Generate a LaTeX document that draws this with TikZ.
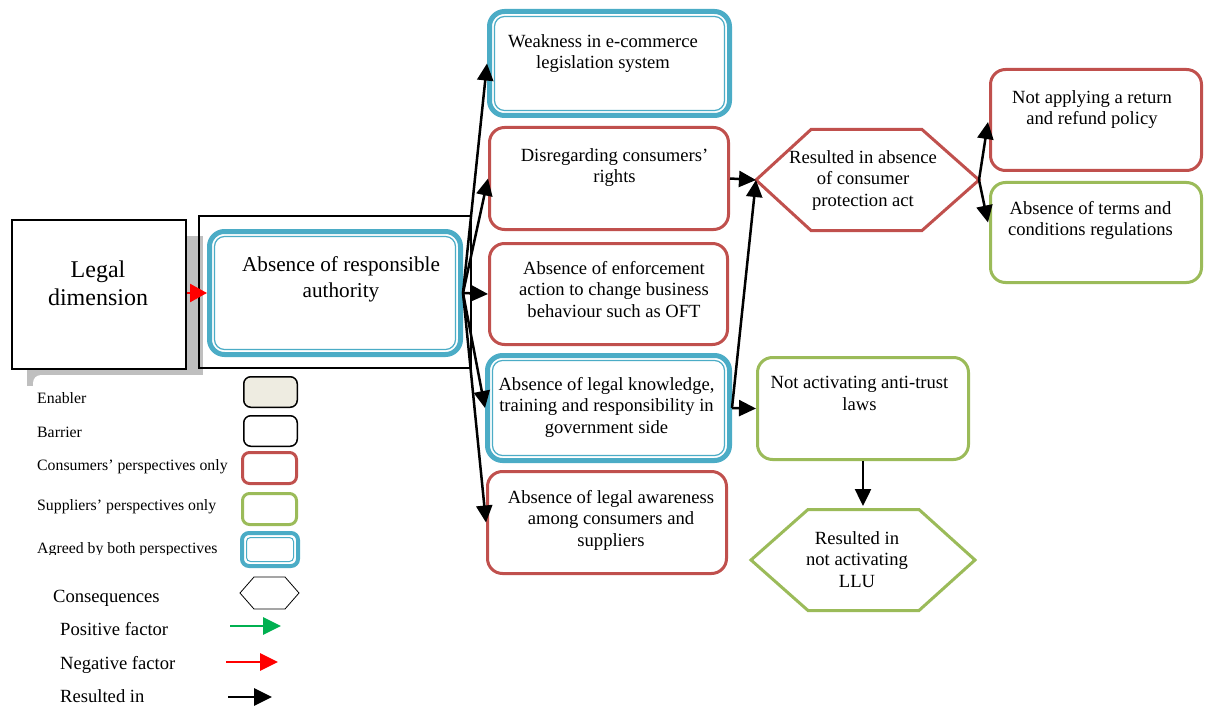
\documentclass[tikz,border=0pt]{standalone}
\usepackage{fontspec}
\setmainfont{Liberation Serif}
\usetikzlibrary{arrows.meta,calc}
\definecolor{agreeblue}{HTML}{4BACC6}
\definecolor{consred}{HTML}{C0504D}
\definecolor{suppgreen}{HTML}{9BBB59}
\definecolor{enablerfill}{HTML}{EEECE1}
\definecolor{posgreen}{HTML}{00B050}
\definecolor{shadowgray}{HTML}{BFBFBF}

\tikzset{
  box/.style={draw, rounded corners=15pt, line width=3pt, fill=white, inner sep=0pt},
  consbox/.style={box, draw=consred},
  suppbox/.style={box, draw=suppgreen},
  agreebox/.style={box, draw=agreeblue, line width=5pt},
  txt/.style={font=\fontsize{18.6}{21.7}\selectfont, align=center, anchor=north, inner sep=0pt},
  legtxt/.style={font=\fontsize{15.8}{18}\selectfont, anchor=west, inner sep=0pt},
  legtxtb/.style={font=\fontsize{18.6}{21.7}\selectfont, anchor=west, inner sep=0pt},
  swatch/.style={draw, rounded corners=7pt, fill=white, inner sep=0pt},
  res/.style={line width=2.5pt, -{Triangle[length=17pt,width=16pt]}},
  legarrow/.style={line width=2.8pt, -{Triangle[length=18pt,width=17pt]}},
}

\begin{document}
\begin{tikzpicture}[x=1pt,y=-1pt]
\useasboundingbox (0,0) rectangle (1211,706);

% shadow behind the dimension box and the white legend panel over it
\fill[shadowgray] (27,236) rectangle (203,386);
\fill[white, rounded corners=8pt] (33,375) rectangle (236,706);

% dimension box and the frame around its first factor
\node[draw, line width=2pt, fill=white, minimum width=174pt, minimum height=149pt, inner sep=0pt] (legal) at (99,294.5) {};
\node[txt, font=\fontsize{24}{27.5}\selectfont] (legal-t) at (98,261) {Legal\\dimension};
\node[draw, line width=1.5pt, minimum width=272pt, minimum height=152pt, inner sep=0pt] (frame) at (335,292) {};

% factor boxes
\node[agreebox, minimum width=251pt, minimum height=123pt] (auth) at (335,293) {};
\node[agreebox, minimum width=240pt, minimum height=104pt] (weak) at (609.5,63.5) {};
\node[consbox, minimum width=239pt, minimum height=102pt] (dis) at (609,178.5) {};
\node[consbox, minimum width=238pt, minimum height=101pt] (enf) at (608.5,294) {};
\node[agreebox, minimum width=242pt, minimum height=105pt] (know) at (608.5,408) {};
\node[consbox, minimum width=239pt, minimum height=102pt] (awa) at (607,522.5) {};
\node[consbox, minimum width=211pt, minimum height=101pt] (ret) at (1096,120) {};
\node[suppbox, minimum width=211pt, minimum height=100pt] (terms) at (1096,232.5) {};
\node[suppbox, minimum width=211pt, minimum height=102pt] (anti) at (863,408.5) {};

% legend swatches
\node[swatch, line width=1.5pt, fill=enablerfill, minimum width=53.5pt, minimum height=30.5pt] (legEn) at (270.5,392) {};
\node[swatch, line width=1.5pt, minimum width=53.5pt, minimum height=30.5pt] (legBa) at (270.5,431) {};
\node[swatch, line width=3pt, draw=consred, minimum width=54pt, minimum height=31pt] (legCo) at (269.5,468) {};
\node[swatch, line width=3pt, draw=suppgreen, minimum width=54pt, minimum height=31pt] (legSu) at (269.5,509) {};
\node[swatch, line width=4pt, draw=agreeblue, minimum width=56pt, minimum height=33pt] (legAg) at (270,549.5) {};

% inner thin line of the double blue borders
\foreach \n in {auth,weak,know}
  \draw[agreeblue, line width=1.2pt, rounded corners=10pt]
    ($(\n.north west)+(7.5,7.5)$) rectangle ($(\n.south east)+(-7.5,-7.5)$);
\draw[agreeblue, line width=1pt, rounded corners=4pt]
  ($(legAg.north west)+(6.5,6.5)$) rectangle ($(legAg.south east)+(-6.5,-6.5)$);

% consequence hexagons
\coordinate (h1L) at (756,180);
\coordinate (h1R) at (979,180);
\draw[consred, line width=3pt, fill=white] (h1L) -- (811,129.5) -- (922,129.5) -- (h1R) -- (922,230.5) -- (811,230.5) -- cycle;
\coordinate (h2T) at (863,506);
\draw[suppgreen, line width=3pt, fill=white] (751,560) -- (808,509.5) -- (919,509.5) -- (975,560) -- (919,610.5) -- (808,610.5) -- cycle;
\draw[line width=0.8pt] (240,593) -- (254,577) -- (285,577) -- (299,593) -- (285,609) -- (254,609) -- cycle;

% texts
\node[txt, font=\fontsize{21.2}{26}\selectfont] (auth-t) at (341,256) {Absence of responsible\\authority};
\node[txt] (weak-t) at (603,34) {Weakness in e-commerce\\legislation system};
\node[txt] (dis-t) at (614.5,148) {Disregarding consumers’\\rights};
\node[txt] (enf-t) at (614,261) {Absence of enforcement\\action to change business\\behaviour such as OFT};
\node[txt] (know-t) at (606.5,377) {Absence of legal knowledge,\\training and responsibility in\\government side};
\node[txt] (awa-t) at (611,490) {Absence of legal awareness\\among consumers and\\suppliers};
\node[txt] (hex1) at (863,150) {Resulted in absence\\of consumer\\protection act};
\node[txt] (ret-t) at (1092,90) {Not applying a return\\and refund policy};
\node[txt] (terms-t) at (1090.5,201) {Absence of terms and\\conditions regulations};
\node[txt] (anti-t) at (859.5,376) {Not activating anti-trust\\laws};
\node[txt] (hex2) at (857,531) {Resulted in\\not activating\\LLU};

% legend texts
\node[legtxt] (lt1) at (37,398) {Enabler};
\node[legtxt] (lt2) at (37,432) {Barrier};
\node[legtxt] (lt3) at (37,467) {Consumers’ perspectives only};
\node[legtxt] (lt4) at (37,507) {Suppliers’ perspectives only};
\begin{scope}
  \clip (30,530) rectangle (236,554);
  \node[legtxt] (lt5) at (37,550) {Agreed by both perspectives};
\end{scope}
\node[legtxtb] (lt6) at (53,598) {Consequences};
\node[legtxtb] (lt7) at (60,629) {Positive factor};
\node[legtxtb] (lt8) at (60,665) {Negative factor};
\node[legtxtb] (lt9) at (60,696) {Resulted in};

% legend arrows
\coordinate (posA) at (230,626); \coordinate (posB) at (281,626);
\coordinate (negA) at (226,662); \coordinate (negB) at (278,662);
\coordinate (resA) at (228,697); \coordinate (resB) at (272,697);
\draw[legarrow, posgreen] (posA) -- (posB);
\draw[legarrow, red] (negA) -- (negB);
\draw[legarrow, black] (resA) -- (resB);

% connectors
\draw[red, line width=2.5pt, -{Triangle[length=17pt,width=18pt]}] (legal.east |- auth.west) -- (auth.west);
\draw[res] (auth.east) -- (weak.west);
\draw[res] (auth.east) -- (dis.west);
\draw[res] (auth.east) -- (enf.west);
\draw[res] (auth.east) -- (know.west);
\draw[res] (auth.east) -- (awa.west);
\draw[res] (dis.east) -- (h1L);
\draw[res] (know.east) -- (h1L);
\draw[res] (know.east) -- (anti.west);
\draw[res] (h1R) -- ($(ret.west)+(-1,2)$);
\draw[res] (h1R) -- ($(terms.west)+(-1,-10)$);
\draw[res] (anti.south) -- (h2T);
\end{tikzpicture}
\end{document}
